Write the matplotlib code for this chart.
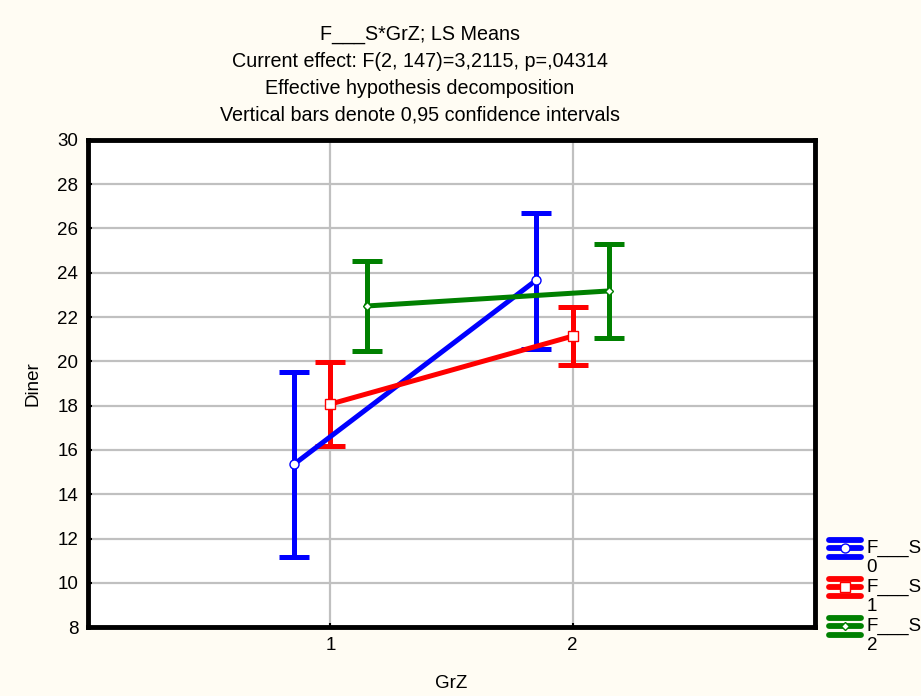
import numpy as np
import matplotlib
matplotlib.use('Agg')
import matplotlib.pyplot as plt
from matplotlib.lines import Line2D

plt.rcParams['font.family'] = ['Liberation Sans', 'DejaVu Sans']

grz = [1, 2]
groups = ['0', '1', '2']
means = {'0': [15.35, 23.67], '1': [18.07, 21.14], '2': [22.50, 23.18]}
lower = {'0': [11.16, 20.56], '1': [16.18, 19.83], '2': [20.47, 21.05]}
upper = {'0': [19.52, 26.70], '1': [19.97, 22.45], '2': [24.53, 25.30]}
offsets = {'0': -0.15, '1': 0.0, '2': 0.15}
colors = {'0': '#0000ff', '1': '#ff0000', '2': '#008000'}
markers = {'0': 'o', '1': 's', '2': 'D'}
msizes = {'0': 6.5, '1': 6.5, '2': 4.5}

fs = 13.5
fig = plt.figure(figsize=(9.21, 6.96), dpi=100, facecolor='#fffcf3')
ax = fig.add_axes([0.0955, 0.099, 0.7895, 0.7])
ax.set_facecolor('white')

for g in groups:
    x = np.array(grz) + offsets[g]
    m = np.array(means[g])
    yerr = [m - np.array(lower[g]), np.array(upper[g]) - m]
    ax.errorbar(x, m, yerr=yerr, color=colors[g], lw=3.6, elinewidth=3.6,
                capsize=11, capthick=3.6, zorder=3)
    ax.plot(x, m, ls='none', marker=markers[g], ms=msizes[g],
            mfc='white', mec=colors[g], mew=1, zorder=4)

ax.set_xlim(0, 3)
ax.set_ylim(8, 30)
ax.set_xticks(grz)
ax.set_yticks(np.arange(8, 31, 2))
ax.grid(True, color='#c0c0c0', lw=1.6)
ax.set_axisbelow(True)
for s in ax.spines.values():
    s.set_linewidth(3.5)
    s.set_color('black')
ax.tick_params(direction='in', length=3, width=1.5, labelsize=fs, pad=7)
ax.set_xlabel('GrZ', fontsize=fs, labelpad=15)
ax.set_ylabel('Diner', fontsize=fs, labelpad=11)

title = ('F___S*GrZ; LS Means\nCurrent effect: F(2, 147)=3,2115, p=,04314\n'
         'Effective hypothesis decomposition\nVertical bars denote 0,95 confidence intervals')
fig.text(0.456, 0.964, title, ha='center', va='top', fontsize=14.2, linespacing=1.53)

# legend keys at the right edge
for i, g in enumerate(groups):
    yc = 0.212 - i * 0.056
    for dy in [0.0125, 0.0, -0.0125]:
        fig.add_artist(Line2D([0.9, 0.935], [yc + dy, yc + dy], color=colors[g],
                              lw=4.2, solid_capstyle='round'))
    fig.add_artist(Line2D([0.9175], [yc], marker=markers[g], ms=msizes[g],
                          mfc='white', mec=colors[g], mew=1, ls='none'))
    fig.text(0.941, yc, 'F___S', fontsize=fs, va='center', ha='left')
    fig.text(0.941, yc - 0.027, g, fontsize=fs, va='center', ha='left')

fig.savefig('out.png', dpi=100, facecolor=fig.get_facecolor())
